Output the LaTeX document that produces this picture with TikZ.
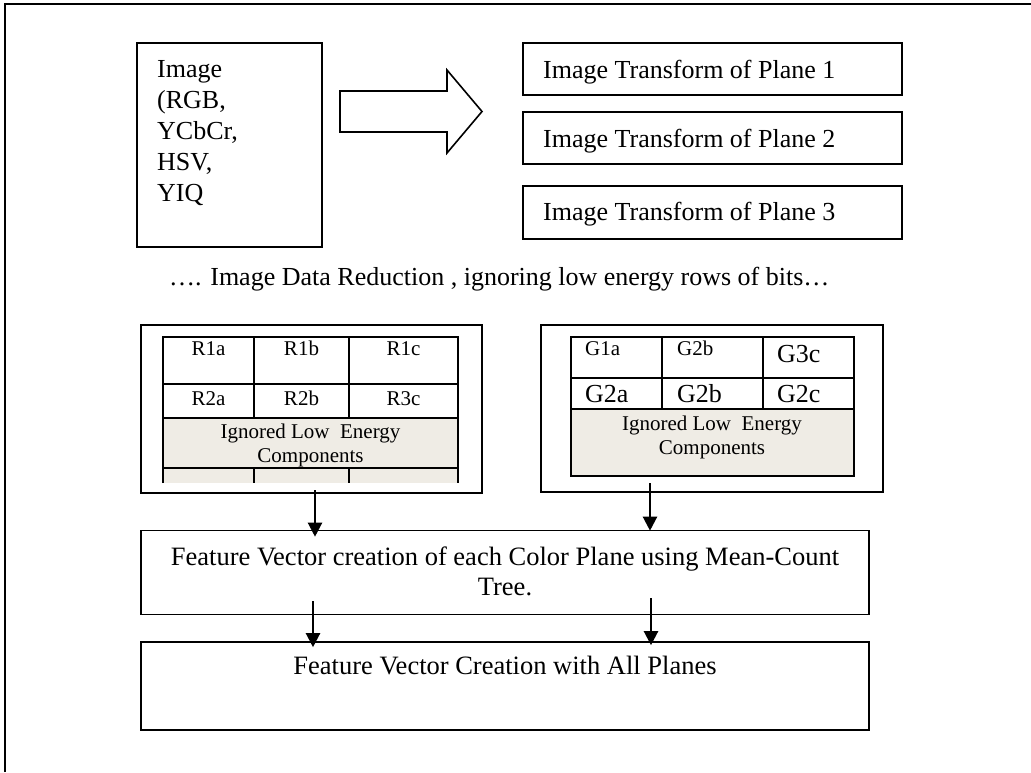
\documentclass[tikz,border=0pt]{standalone}
\usepackage{fontspec}
\setmainfont{Liberation Serif}
\usetikzlibrary{arrows.meta}
\definecolor{ignoredfill}{RGB}{239,236,229}
\begin{document}
\begin{tikzpicture}[x=1pt,y=-1pt,
  frameline/.style={line width=2.2pt},
  box/.style={draw, line width=1.6pt, inner sep=0pt},
  tbl/.style={line width=2.2pt},
  txt/.style={inner sep=0pt, font=\fontsize{26}{30.8}\selectfont},
  smalltxt/.style={inner sep=0pt, font=\fontsize{21}{24}\selectfont},
  fvtxt/.style={inner sep=0pt, font=\fontsize{26.5}{30}\selectfont},
  arr/.style={line width=2.2pt, -{Triangle[width=14pt,length=14pt]}}
]
\useasboundingbox (0,0) rectangle (1031,772);
% outer frame (top and left sides only)
\draw[frameline] (5,772) -- (5,4) -- (1031,4);

% image box
\node[box, minimum width=185pt, minimum height=204pt] (img) at (229.5,145) {};
\node[txt, align=left, anchor=base west] (imgtext) at (157,201) {Image\\(RGB,\\YCbCr,\\HSV,\\YIQ};

% block arrow
\draw[line width=1.6pt, line join=miter] (340,91) -- (447,91) -- (447,70) -- (482,111.5) -- (447,153) -- (447,132) -- (340,132) -- cycle;

% transform boxes
\node[box, minimum width=379pt, minimum height=52pt] (p1) at (712.5,69) {};
\node[box, minimum width=379pt, minimum height=52pt] (p2) at (712.5,138) {};
\node[box, minimum width=379pt, minimum height=53pt] (p3) at (712.5,212.5) {};
\node[txt, anchor=base west] (p1t) at (543,78) {Image Transform of Plane 1};
\node[txt, anchor=base west] (p2t) at (543,147) {Image Transform of Plane 2};
\node[txt, anchor=base west] (p3t) at (543,220) {Image Transform of Plane 3};

% reduction text
\node[txt, anchor=base west] (red) at (169,285) {…. Image Data Reduction , ignoring low energy rows of bits…};

% left panel
\node[box, minimum width=341pt, minimum height=168pt] (lp) at (311.5,409) {};
\fill[ignoredfill] (163,418) rectangle (458,483);
\draw[tbl] (163,483) -- (163,337) -- (458,337) -- (458,483);
\draw[tbl] (163,384) -- (458,384);
\draw[tbl] (163,418) -- (458,418);
\draw[tbl] (163,468) -- (458,468);
\draw[tbl] (254,337) -- (254,418);
\draw[tbl] (349,337) -- (349,418);
\draw[tbl] (254,468) -- (254,483);
\draw[tbl] (349,468) -- (349,483);
\node[smalltxt, anchor=base] (r1a) at (208.5,355) {R1a};
\node[smalltxt, anchor=base] (r1b) at (301.5,355) {R1b};
\node[smalltxt, anchor=base] (r1c) at (403.5,355) {R1c};
\node[smalltxt, anchor=base] (r2a) at (208.5,405) {R2a};
\node[smalltxt, anchor=base] (r2b) at (301.5,405) {R2b};
\node[smalltxt, anchor=base] (r3c) at (403.5,405) {R3c};
\node[smalltxt, align=center, anchor=base] (lign) at (310.5,462) {Ignored Low\ \ Energy\\Components};

% right panel
\node[box, minimum width=342pt, minimum height=167pt] (rp) at (712,408.5) {};
\fill[ignoredfill] (571,409) rectangle (854,476);
\draw[tbl] (571,337) rectangle (854,476);
\draw[tbl] (571,378) -- (854,378);
\draw[tbl] (571,409) -- (854,409);
\draw[tbl] (662,337) -- (662,409);
\draw[tbl] (763,337) -- (763,409);
\node[smalltxt, anchor=base west] (g1a) at (585,355) {G1a};
\node[smalltxt, anchor=base west] (g2bs) at (677,355) {G2b};
\node[txt, anchor=base west] (g3c) at (777,362) {G3c};
\node[txt, anchor=base west] (g2a) at (585,402) {G2a};
\node[txt, anchor=base west] (g2b) at (677,402) {G2b};
\node[txt, anchor=base west] (g2c) at (777,402) {G2c};
\node[smalltxt, align=center, anchor=base] (rign) at (712,454) {Ignored Low\ \ Energy\\Components};

% feature vector boxes
\node[box, minimum width=728pt, minimum height=84pt] (fv) at (505,572.5) {};
\node[fvtxt, align=center, anchor=base] (fvt) at (505,595) {Feature Vector creation of each Color Plane using Mean-Count\\Tree.};
\node[box, minimum width=728pt, minimum height=88pt] (fa) at (505,686) {};
\node[fvtxt, anchor=base] (fat) at (505,674) {Feature Vector Creation with All Planes};

% connectors
\coordinate (la) at (315,490);
\coordinate (ra) at (650,483);
\coordinate (lb) at (313,601);
\coordinate (rb) at (651,598);
\draw[arr, shorten >=-7pt] (la) -- (la |- fv.north);
\draw[arr, shorten >=-1pt] (ra) -- (ra |- fv.north);
\draw[arr, shorten >=-6pt] (lb) -- (lb |- fa.north);
\draw[arr, shorten >=-4pt] (rb) -- (rb |- fa.north);
\end{tikzpicture}
\end{document}
